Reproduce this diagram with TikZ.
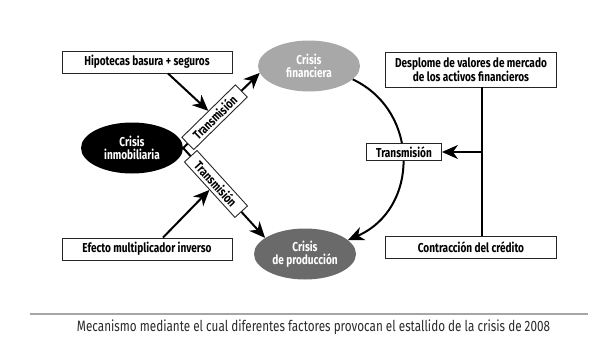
\documentclass[tikz,border=0pt]{standalone}
\usepackage{fontspec}
\setmainfont{Fira Sans}[FakeStretch=0.78]
\usetikzlibrary{arrows.meta,shapes.geometric}
\definecolor{lightg}{HTML}{A8A8A8}
\definecolor{darkg}{HTML}{6A6A6A}
\definecolor{capg}{HTML}{2A2A2A}
\tikzset{
  boxst/.style={draw=black!85, line width=0.9pt, fill=white, align=center, inner sep=1pt,
    font=\bfseries\fontsize{12.9}{14}\selectfont},
  ellst/.style={ellipse, inner sep=0pt, minimum width=102pt, minimum height=51pt, text=white,
    align=center, font=\bfseries\fontsize{12.9}{13.5}\selectfont},
  lblst/.style={draw=black!85, line width=0.9pt, fill=white, inner sep=1pt,
    minimum width=75pt, minimum height=17pt, font=\bfseries\fontsize{12.9}{14}\selectfont},
  arr/.style={line width=2pt, -{Stealth[length=16pt,width=14pt,inset=5pt]}},
  plainln/.style={line width=2pt},
}
\begin{document}
\begin{tikzpicture}[x=1pt,y=-1pt]
\useasboundingbox (0,0) rectangle (600,340);
% boxes
\node[boxst, minimum width=170pt, minimum height=22pt] (hip) at (147,62) {Hipotecas basura + seguros};
\node[boxst, minimum width=170pt, minimum height=22pt] (efe) at (147,249) {Efecto multiplicador inverso};
\node[boxst, minimum width=171pt, minimum height=35pt] (des) at (471,69.5) {Desplome de valores de mercado\\de los activos financieros};
\node[boxst, minimum width=171pt, minimum height=22pt] (con) at (471,247) {Contracción del crédito};
% ellipses
\node[ellst, fill=black] (inm) at (132,148) {Crisis\\inmobiliaria};
\node[ellst, fill=lightg] (fin) at (309,66) {Crisis\\financiera};
\node[ellst, fill=darkg] (pro) at (305,254) {Crisis\\de producción};
% transmission lines
\draw[arr] (inm.east) -- (fin.188) node[lblst, sloped, pos=0.41] (t1) {Transmisión};
\draw[arr] (inm.east) -- (pro.158) node[lblst, sloped, pos=0.40] (t2) {Transmisión};
% feeding arrows
\coordinate (hx) at (168,0);
\coordinate (ex) at (163,0);
\draw[arr] (hip.south -| hx) -- (t1.north);
\draw[arr] (efe.north -| ex) -- (t2.south);
% curve
\draw[arr] (fin.-17) .. controls (420,111) and (419.5,209) .. (pro.18);
\node[lblst] (t3) at (404,152) {Transmisión};
% right side
\coordinate (vx) at (482,0);
\draw[plainln] (des.south -| vx) -- (con.north -| vx);
\draw[arr] (vx |- t3) -- (t3.east);
% caption
\draw[black!35, line width=1.3pt] (30,314) -- (588,314);
\node[text=capg, font=\fontsize{15}{17}\selectfont] (cap) at (313.5,327) {Mecanismo mediante el cual diferentes factores provocan el estallido de la crisis de 2008};
\end{tikzpicture}
\end{document}
